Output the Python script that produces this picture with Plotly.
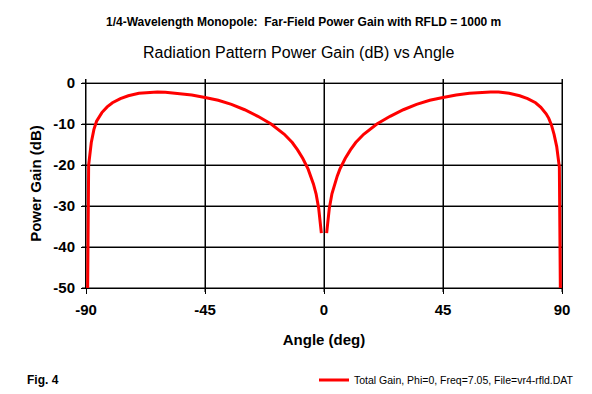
import plotly.graph_objects as go

angles = [-90, -89, -88, -87, -86, -85, -84, -82, -80, -77, -74, -70, -66, -63, -60, -55, -50, -45,
          -40, -35, -30, -25, -20, -15, -12, -10, -8, -6, -5, -4, -3, -2, -1, 0,
          1, 2, 3, 4, 5, 6, 8, 10, 12, 15, 20, 25, 30, 35, 40,
          45, 50, 55, 60, 63, 66, 70, 74, 77, 80, 82, 84, 85, 86, 87, 88, 89, 90]
gain_db = [-99.99, -20.0, -14.5, -11.3, -9.3, -8.1, -7.2, -5.8, -4.8, -3.8, -3.1, -2.5, -2.2, -2.15, -2.25, -2.5, -2.9, -3.5,
           -4.2, -5.2, -6.5, -8.1, -10.0, -12.5, -14.5, -16.3, -18.4, -21.0, -22.7, -24.6, -27.0, -30.6, -36.6, None,
           -36.6, -30.6, -27.0, -24.6, -22.7, -21.0, -18.4, -16.3, -14.5, -12.5, -10.0, -8.1, -6.5, -5.2, -4.2,
           -3.5, -2.9, -2.5, -2.25, -2.15, -2.2, -2.5, -3.1, -3.8, -4.8, -5.9, -7.5, -8.6, -10.2, -12.5, -15.5, -20.5, -99.99]

x_ticks = [-90, -45, 0, 45, 90]
y_ticks = [0, -10, -20, -30, -40, -50]

title_main = "1/4-Wavelength Monopole:  Far-Field Power Gain with RFLD = 1000 m"
title_sub = "Radiation Pattern Power Gain (dB) vs Angle"
series_name = "Total Gain, Phi=0, Freq=7.05, File=vr4-rfld.DAT"

FONT = "Liberation Sans, Arial, sans-serif"

fig = go.Figure()
fig.add_trace(go.Scatter(
    x=angles, y=gain_db, mode="lines", name=series_name,
    line=dict(color="#ff0000", width=3), connectgaps=False, showlegend=True,
))

# plot area: x 86..562 px, y 79..288 px
L, R, T, B = 86, 30, 79, 106
W, H = 592, 394
pw, ph = W - L - R, H - T - B

def px(x):
    return (x - L) / pw

def py(y):
    return (H - B - y) / ph

tick_out = 4  # px that grid lines reach past the axes (tick marks)

shapes = []
for v in x_ticks:
    shapes.append(dict(type="line", xref="x", yref="paper", x0=v, x1=v,
                       y0=-tick_out / ph, y1=1, layer="below",
                       line=dict(color="black", width=1)))
for v in y_ticks:
    shapes.append(dict(type="line", xref="paper", yref="y", x0=-tick_out / pw, x1=1,
                       y0=v, y1=v, layer="below",
                       line=dict(color="black", width=1)))

fig.update_layout(
    width=W, height=H,
    margin=dict(l=L, r=R, t=T, b=B, autoexpand=False),
    paper_bgcolor="white", plot_bgcolor="white",
    font=dict(family=FONT, color="black"),
    showlegend=True,
    legend=dict(
        x=px(579), y=py(380), xanchor="right", yanchor="middle",
        orientation="h", font=dict(size=10.5, family=FONT, color="black"),
        bgcolor="rgba(0,0,0,0)", itemwidth=30,
    ),
    xaxis=dict(
        range=[-90, 90], tickmode="array", tickvals=x_ticks,
        ticktext=["<b>%d</b>" % v for v in x_ticks],
        showgrid=True, gridcolor="black", gridwidth=1,
        showline=True, linecolor="black", linewidth=1,
        ticks="outside", ticklen=5, tickcolor="black", tickwidth=1, ticklabelstandoff=3,
        tickfont=dict(size=15, family=FONT, color="black"),
        zeroline=False,
        title=dict(text="<b>Angle (deg)</b>", font=dict(size=15, family=FONT), standoff=17),
    ),
    yaxis=dict(
        range=[-50, 1], tickmode="array", tickvals=y_ticks,
        ticktext=["<b>%d</b>" % v for v in y_ticks],
        showgrid=True, gridcolor="black", gridwidth=1,
        showline=True, linecolor="black", linewidth=1, mirror=True,
        ticks="outside", ticklen=4, tickcolor="black", tickwidth=1, ticklabelstandoff=3,
        tickfont=dict(size=15, family=FONT, color="black"),
        zeroline=False,
        title=dict(text="<b>Power Gain (dB)</b>", font=dict(size=15, family=FONT), standoff=8),
    ),
    shapes=shapes,
    annotations=[
        dict(text="<b>" + title_main + "</b>", xref="paper", yref="paper",
             x=px(303), y=py(22), xanchor="center", yanchor="middle", showarrow=False,
             font=dict(size=12, family=FONT)),
        dict(text=title_sub, xref="paper", yref="paper",
             x=px(298), y=py(52), xanchor="center", yanchor="middle", showarrow=False,
             font=dict(size=16, family=FONT)),
        dict(text="<b>Fig. 4</b>", xref="paper", yref="paper",
             x=px(25), y=py(380), xanchor="left", yanchor="middle", showarrow=False,
             font=dict(size=12, family=FONT)),
    ],
)

fig.write_html("out.html", config={"displayModeBar": False},
               post_script="document.body.style.margin='0';")
